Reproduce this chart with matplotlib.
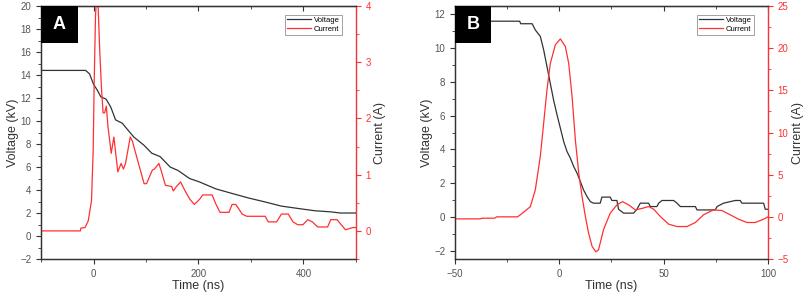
import matplotlib
matplotlib.use("Agg")
import matplotlib.pyplot as plt
from matplotlib.ticker import MultipleLocator
from matplotlib.patches import Rectangle

plt.rcParams['font.family'] = ['Liberation Sans', 'DejaVu Sans']

# Panel A data
tA_v = [-100, -15, -7.5, 0, 7, 14, 24, 33, 42, 55, 64, 77, 96, 111, 127, 146, 161, 183, 202,
        233, 264, 296, 327, 358, 389, 421, 452, 470, 500]
vA = [14.4, 14.4, 14.1, 13.2, 12.7, 12.1, 11.9, 11.2, 10.1, 9.8, 9.3, 8.6, 7.9, 7.2, 6.9, 6.0,
      5.7, 5.0, 4.7, 4.1, 3.7, 3.3, 2.96, 2.6, 2.4, 2.2, 2.1, 2.0, 2.0]
tA_i = [-100, -25, -24, -16, -10, -3.8, -0.6, 1.3, 3.8, 6.5, 8.8, 11.9, 15, 18.2, 21.3, 24.4,
        27.6, 33.8, 38.8, 46.3, 52.6, 57, 61, 70, 74, 83.9, 96.4, 101, 112, 116, 124.5, 128,
        137, 149, 152, 158, 166, 174, 183, 192, 202, 208,
        226, 233, 241, 258, 264, 271, 277, 283, 292, 327, 333, 349, 358, 371, 380, 389, 399,
        408, 417, 427, 446, 452, 464, 471, 480, 494, 500]
iA = [0.0, 0.0, 0.05, 0.06, 0.18, 0.54, 1.44, 2.63, 3.82, 4.3, 4.0, 3.2, 2.57, 2.1, 2.1, 2.22,
      1.85, 1.38, 1.67, 1.05, 1.2, 1.1, 1.2, 1.67, 1.6, 1.26, 0.84, 0.84, 1.08, 1.1, 1.2, 1.1,
      0.81, 0.79, 0.71, 0.79, 0.87, 0.72, 0.57, 0.47, 0.56, 0.64, 0.64, 0.48, 0.33, 0.33, 0.47,
      0.47, 0.39, 0.30, 0.26, 0.26, 0.16, 0.16, 0.30, 0.30, 0.16, 0.11, 0.11, 0.20, 0.16, 0.07,
      0.07, 0.20, 0.20, 0.12, 0.02, 0.06, 0.06]

# Panel B data
tB_v = [-50, -19, -18.5, -13, -11.5, -9.1, -7.5, -5.9, -4.3, -2.7, -1.1, 0.5, 2.1, 3.7, 5.3,
        6.9, 8.5, 10.1, 11.6, 13.3, 14.9, 16.4, 19.6, 20.4, 24.4, 25.2, 27.6, 28.4, 30.8, 35.6,
        37.2, 38.8, 42.8, 43.6, 46.8, 47.6, 49.2, 54.8, 56.4, 58, 65.2, 66, 74.7, 75.6, 78.7,
        84.3, 86.7, 87.5, 97.9, 98.7, 100]
vB = [11.6, 11.6, 11.45, 11.45, 11.08, 10.7, 9.9, 8.9, 7.9, 6.9, 6.05, 5.26, 4.46, 3.87, 3.48,
      2.98, 2.59, 2.09, 1.6, 1.2, 0.9, 0.81, 0.81, 1.17, 1.17, 0.97, 0.97, 0.45, 0.22, 0.22,
      0.45, 0.81, 0.81, 0.61, 0.61, 0.81, 0.97, 0.97, 0.81, 0.61, 0.61, 0.41, 0.41, 0.61, 0.81,
      0.97, 0.97, 0.81, 0.81, 0.45, 0.45]
tB_i = [-50, -38, -37, -31, -30, -20, -18.7, -13.9, -11.5, -9.1, -7.5, -5.9, -4.3, -1.9, 0.5,
        2.9, 4.5, 6.1, 7.7, 9.3, 10.9, 12.5, 14, 15.7, 17.5, 18.8, 21.2, 24.4, 27.6, 30.3, 33.2,
        36.4, 39.6, 42.8, 45.2, 48.4, 52.4, 56.4, 61.2, 65.2, 69.1, 73.9, 77.9, 81.9, 85.9,
        89.9, 93.9, 97.9, 100]
iB = [-0.24, -0.24, -0.16, -0.16, 0.0, 0.0, 0.24, 1.2, 3.2, 7.2, 11.1, 15.1, 18.2, 20.4, 21.1,
      20.2, 18.2, 14.3, 9.1, 5.2, 2.4, 0.04, -1.9, -3.5, -4.15, -3.9, -1.5, 0.44, 1.42, 1.8,
      1.42, 0.83, 1.0, 1.22, 0.91, 0.04, -0.87, -1.15, -1.15, -0.67, 0.24, 0.83, 0.75, 0.24,
      -0.28, -0.67, -0.67, -0.28, 0.0]

BLACK = '#333333'
RED = '#ff3030'
GRAY = '#555555'

fig = plt.figure(figsize=(8.09, 3.01), dpi=100)


def make_panel(rect, t_v, v, t_i, cur, xlim, ylim_v, ylim_i, xmaj, xmin, vmaj, vmin, imaj, imin,
               letter, box_w, box_h):
    ax = fig.add_axes(rect)
    ax.plot(t_v, v, color=BLACK, lw=0.9, label='Voltage')
    ax2 = ax.twinx()
    ax2.plot(t_i, cur, color=RED, lw=0.9, label='Current')
    ax.set_xlim(*xlim)
    ax.set_ylim(*ylim_v)
    ax2.set_ylim(*ylim_i)
    ax.xaxis.set_major_locator(MultipleLocator(xmaj))
    ax.xaxis.set_minor_locator(MultipleLocator(xmin))
    ax.yaxis.set_major_locator(MultipleLocator(vmaj))
    ax.yaxis.set_minor_locator(MultipleLocator(vmin))
    ax2.yaxis.set_major_locator(MultipleLocator(imaj))
    ax2.yaxis.set_minor_locator(MultipleLocator(imin))
    ax.tick_params(axis='both', which='major', direction='out', length=3.5, width=0.8,
                   labelsize=7, colors=BLACK, labelcolor=GRAY)
    ax.tick_params(axis='both', which='minor', direction='out', length=2, width=0.6, colors=BLACK)
    ax2.tick_params(axis='y', which='major', direction='out', length=3.5, width=0.8,
                    labelsize=7, colors=RED, labelcolor=RED)
    ax2.tick_params(axis='y', which='minor', direction='out', length=2, width=0.6, colors=RED)
    sec = ax.secondary_xaxis('top')
    sec.xaxis.set_major_locator(MultipleLocator(xmaj))
    sec.xaxis.set_minor_locator(MultipleLocator(xmin))
    sec.tick_params(which='major', direction='in', length=3.5, width=0.8, colors=BLACK, labeltop=False)
    sec.tick_params(which='minor', direction='in', length=2, width=0.6, colors=BLACK)
    sec.spines['top'].set_color(BLACK)
    for s in ['left', 'bottom', 'top']:
        ax.spines[s].set_color(BLACK)
        ax.spines[s].set_linewidth(0.9)
        ax2.spines[s].set_color(BLACK)
        ax2.spines[s].set_linewidth(0.9)
    ax2.spines['right'].set_color(RED)
    ax2.spines['right'].set_linewidth(0.9)
    ax.set_xlabel('Time (ns)', fontsize=9, color=BLACK, labelpad=1)
    ax.set_ylabel('Voltage (kV)', fontsize=9, color=BLACK, labelpad=1)
    ax2.set_ylabel('Current (A)', fontsize=9, color=BLACK, labelpad=2)
    h1, l1 = ax.get_legend_handles_labels()
    h2, l2 = ax2.get_legend_handles_labels()
    leg = ax2.legend(h1 + h2, l1 + l2, loc='upper right', bbox_to_anchor=(0.955, 0.965),
                     fontsize=5.5, frameon=True, fancybox=False, handlelength=3.2,
                     borderpad=0.25, labelspacing=0.2, handletextpad=0.4, borderaxespad=0)
    leg.get_frame().set_edgecolor('#777777')
    leg.get_frame().set_linewidth(0.6)
    ax2.add_patch(Rectangle((0, 1 - box_h), box_w, box_h, transform=ax2.transAxes,
                            facecolor='black', edgecolor='none', zorder=5, clip_on=False))
    ax2.text(box_w / 2, 1 - box_h / 2, letter, transform=ax2.transAxes, ha='center',
             va='center', fontsize=13, fontweight='bold', color='white', zorder=6)
    return ax, ax2


axA, axA2 = make_panel([0.0507, 0.1395, 0.3893, 0.8405], tA_v, vA, tA_i, iA,
                       (-100, 500), (-2, 20), (-0.5, 4), 200, 100, 2, 1, 1, 0.5, 'A',
                       37 / 315, 37 / 253)
axB, axB2 = make_panel([0.5624, 0.1395, 0.3869, 0.8405], tB_v, vB, tB_i, iB,
                       (-50, 100), (-2.5, 12.5), (-5, 25), 50, 25, 2, 1, 5, 2.5, 'B',
                       36 / 313, 37 / 253)

fig.savefig('out.png', dpi=100)
